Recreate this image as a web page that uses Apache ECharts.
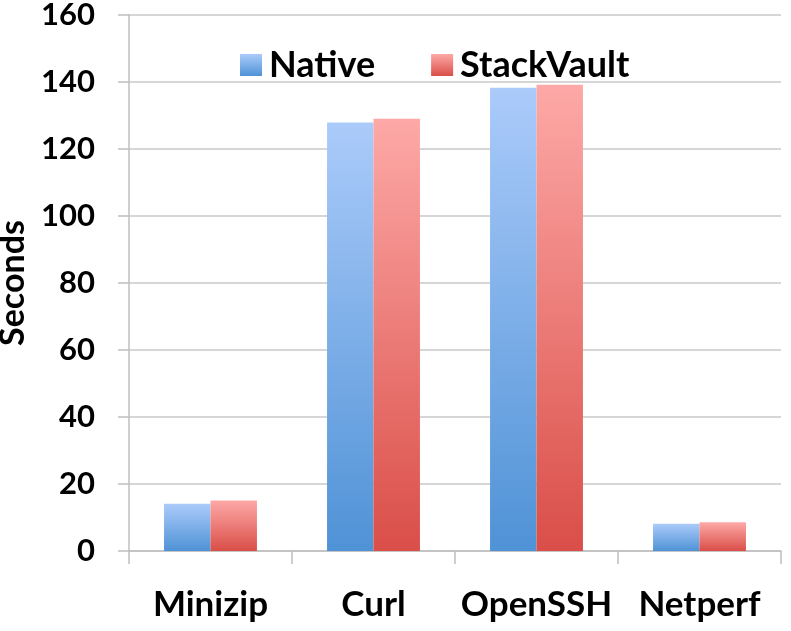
<!DOCTYPE html>
<html>
<head>
<meta charset="utf-8">
<script src="https://cdn.jsdelivr.net/npm/echarts@6/dist/echarts.min.js"></script>
<style>
  html, body { margin: 0; padding: 0; background: #fff; }
  #chart { width: 791px; height: 631px; }
</style>
</head>
<body>
<div id="chart"></div>
<script>
const categories = ["Minizip", "Curl", "OpenSSH", "Netperf"];
const nativeValues = [14.1, 127.9, 138.3, 8.1];
const stackVaultValues = [15.1, 129.0, 139.2, 8.6];
const yTicks = [0, 20, 40, 60, 80, 100, 120, 140, 160];

const font = "Lato, 'Open Sans', sans-serif";
const grad = (top, bottom) => new echarts.graphic.LinearGradient(0, 0, 0, 1, [
  { offset: 0, color: top },
  { offset: 1, color: bottom }
]);

let chart = echarts.init(document.getElementById('chart'));
chart.setOption({
  animation: false,
  textStyle: { fontFamily: font },
  grid: { left: 129, right: 10, top: 15, bottom: 80, containLabel: false, outerBoundsMode: 'none' },
  legend: {
    data: ["Native", "StackVault"],
    top: 42,
    left: 235,
    itemWidth: 22,
    itemHeight: 22,
    itemGap: 56,
    icon: 'rect',
    textStyle: { fontSize: 36, fontWeight: 'bold', color: '#000', fontFamily: font, padding: [0, 0, 0, 2] }
  },
  xAxis: {
    type: 'category',
    data: categories,
    axisLine: { lineStyle: { color: '#bfbfbf', width: 1.5 } },
    axisTick: { show: true, length: 13, lineStyle: { color: '#bfbfbf', width: 1.5 } },
    axisLabel: { interval: 0, fontSize: 35, fontWeight: 'bold', color: '#000', margin: 36, fontFamily: font }
  },
  yAxis: {
    type: 'value',
    min: yTicks[0],
    max: yTicks[yTicks.length - 1],
    interval: yTicks[1] - yTicks[0],
    name: 'Seconds',
    nameLocation: 'middle',
    nameGap: 98,
    nameTextStyle: { fontSize: 34, fontWeight: 'bold', color: '#000', fontFamily: font },
    axisLine: { show: true, lineStyle: { color: '#bfbfbf', width: 1.5 } },
    axisTick: { show: true, length: 11, lineStyle: { color: '#bfbfbf', width: 1.5 } },
    splitLine: { lineStyle: { color: '#c8c8c8', width: 1.5 } },
    axisLabel: { fontSize: 31, fontWeight: 'bold', color: '#000', margin: 34, fontFamily: font }
  },
  series: [
    {
      name: "Native",
      type: "bar",
      data: nativeValues,
      barGap: '0%',
      barCategoryGap: '43%',
      itemStyle: { color: grad('#abcbfa', '#4f92d6') }
    },
    {
      name: "StackVault",
      type: "bar",
      data: stackVaultValues,
      itemStyle: { color: grad('#fda9a7', '#da4e48') }
    }
  ]
});
</script>
</body>
</html>
